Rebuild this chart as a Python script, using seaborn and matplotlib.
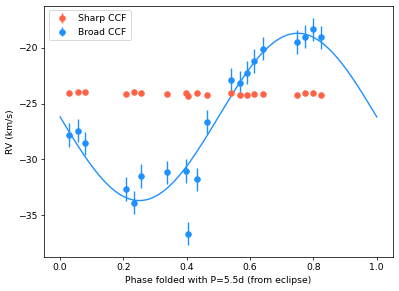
import numpy as np
import pandas as pd
import matplotlib
matplotlib.use("Agg")
import matplotlib.pyplot as plt
import seaborn as sns

phase = [0.028, 0.055, 0.077, 0.208, 0.234, 0.256, 0.337, 0.396, 0.405, 0.433,
         0.465, 0.541, 0.567, 0.591, 0.612, 0.641, 0.747, 0.773, 0.797, 0.824]
rv_sharp = [-24.03, -24.0, -24.0, -24.15, -23.97, -24.1, -24.15, -24.06, -24.3, -24.07,
            -24.24, -24.1, -24.27, -24.2, -24.15, -24.15, -24.2, -24.1, -24.05, -24.2]
err_sharp = [0.1] * 20
rv_broad = [-27.82, -27.43, -28.57, -32.66, -33.89, -31.5, -31.17, -31.05, -36.67, -31.79,
            -26.66, -22.9, -23.14, -22.24, -21.19, -20.09, -19.49, -19.01, -18.35, -19.07]
err_broad = [1.05] * 20

# fitted circular-orbit model parameters
gamma = -26.2
K = 7.5
model_phase = np.linspace(0, 1, 200)
model_rv = gamma - K * np.sin(2 * np.pi * model_phase)

DPI = 66.5
fig = plt.figure(figsize=(399 / DPI, 291 / DPI), dpi=DPI)
ax = fig.add_axes([0.111, 0.118, 0.873, 0.862])

ax.errorbar(phase, rv_sharp, yerr=err_sharp, fmt='o', color='tomato', label='Sharp CCF')
ax.errorbar(phase, rv_broad, yerr=err_broad, fmt='o', color='dodgerblue', label='Broad CCF')
sns.lineplot(x=model_phase, y=model_rv, ax=ax, color='dodgerblue', legend=False, sort=False)

ax.set_xlim(-0.05, 1.05)
ax.set_ylim(-38.73, -16.24)
ax.set_xticks([0.0, 0.2, 0.4, 0.6, 0.8, 1.0])
ax.set_yticks([-35, -30, -25, -20])
ax.set_xlabel('Phase folded with P=5.5d (from eclipse)')
ax.set_ylabel('RV (km/s)')
ax.legend(loc='upper left')

fig.savefig('out.png', dpi=DPI)
